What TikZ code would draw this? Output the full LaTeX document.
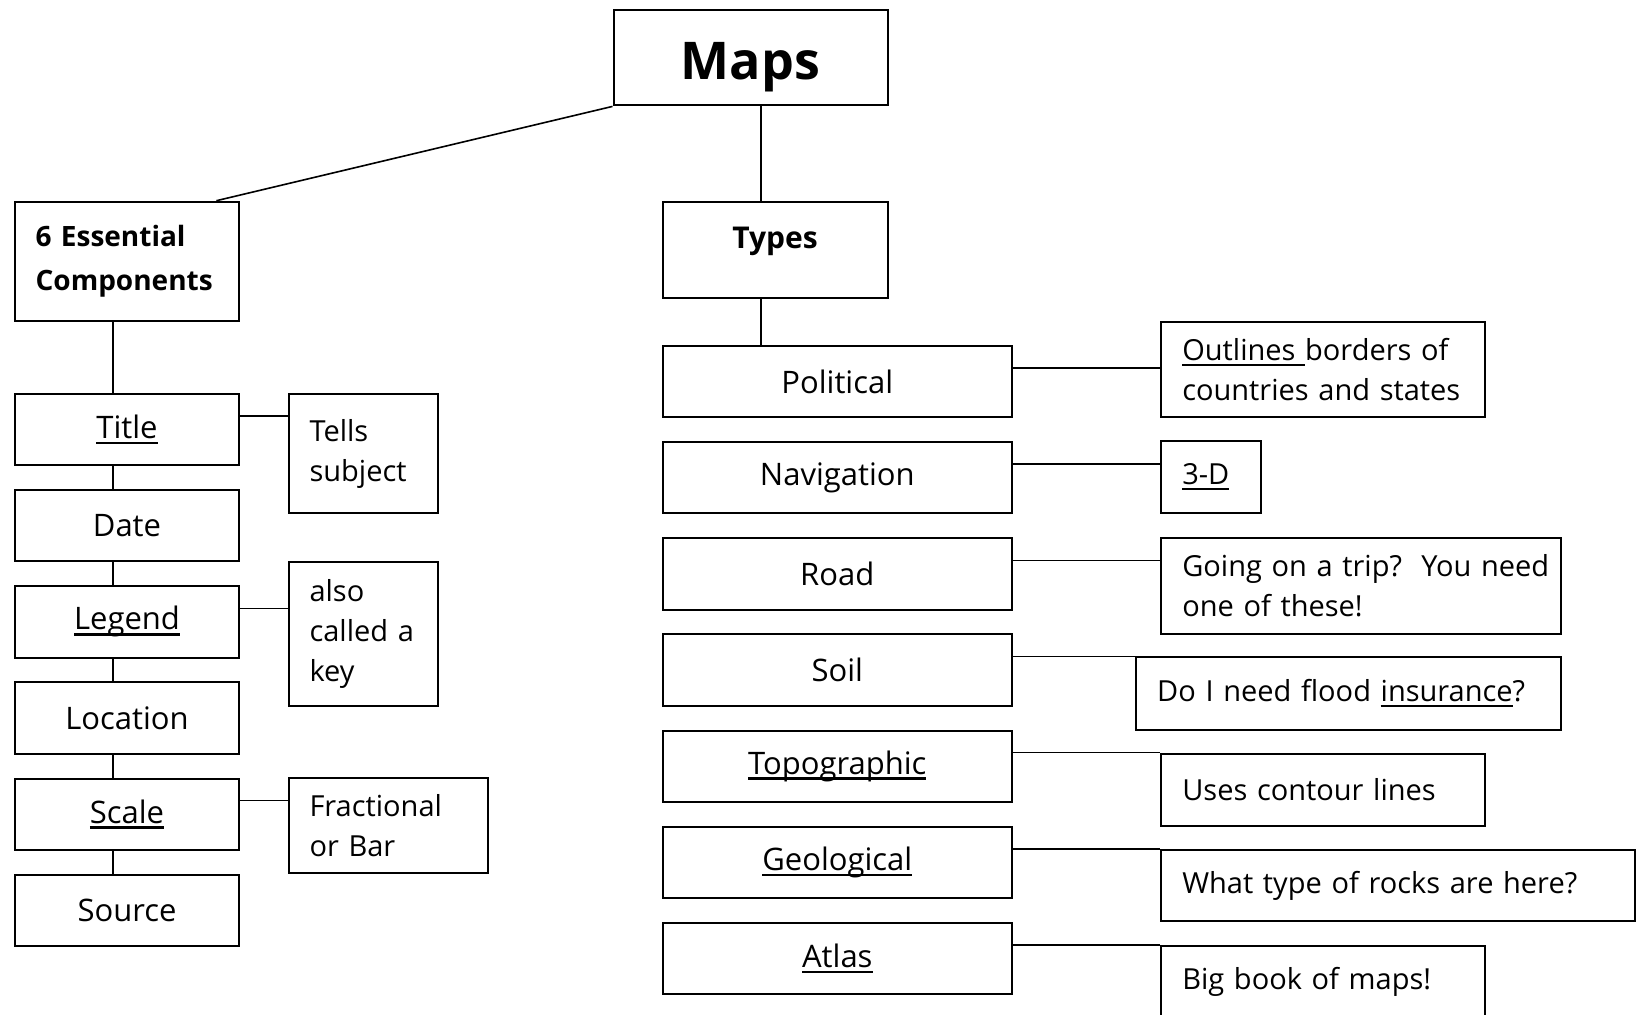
\documentclass[tikz,border=0pt]{standalone}
\usepackage{fontspec}
\setmainfont{Open Sans}
\usetikzlibrary{positioning,calc}
\newlength\ulwd
\newcommand\ulin[1]{\settowidth\ulwd{#1}\rlap{\rule[-2.8pt]{\ulwd}{1.2pt}}#1}
\hyphenpenalty=10000
\exhyphenpenalty=10000

\begin{document}
\begin{tikzpicture}[x=0.5pt, y=-0.5pt,
  box/.style={draw, line width=1pt, anchor=north west, inner sep=0pt, font=\fontsize{15.5}{21}\selectfont},
  head/.style={box, font=\fontsize{15}{22}\bfseries\selectfont},
  note/.style={box, align=left, inner xsep=10.5pt, font=\fontsize{14.5}{20}\selectfont},
  link/.style={line width=0.8pt}]

\useasboundingbox (0,0) rectangle (1639,1014);

% oben
\node[head, font=\fontsize{26}{30}\bfseries\selectfont, minimum width=137pt, text height=34.3pt, text depth=13.2pt] (maps) at (612.5,9.4) {Maps};
\node[head, font=\fontsize{14}{22}\bfseries\selectfont, align=left, text width=91.4pt, inner xsep=10.5pt, minimum height=59.6pt] (essential) at (13.6,200.7) {6 Essential\\Components};
\node[head, minimum width=112.4pt, text height=23.5pt, text depth=24.6pt] (types) at (661.7,200.7) {Types};

% linke Spalte
\foreach \name/\txt [count=\i from 0] in {title/\ulin{Title}, date/Date, legend/\ulin{Legend}, location/Location, scale/\ulin{Scale}, source/Source}
  \node[box, minimum width=112.4pt, minimum height=35.6pt] (\name) at (13.6,393+96.15*\i) {\txt};

% rechte Spalte
\foreach \name/\txt [count=\i from 0] in {political/Political, navigation/Navigation, road/Road, soil/Soil, topographic/\ulin{Topographic}, geological/\ulin{Geological}, atlas/\ulin{Atlas}}
  \node[box, minimum width=174.6pt, minimum height=35.6pt] (\name) at (661.7,345+96.15*\i) {\txt};

% Notizen links
\node[note, text width=53.8pt, minimum height=59.6pt] (tells) at (287.5,393) {Tells\\subject};
\node[note, text width=53.8pt, minimum height=71.6pt] (alsokey) at (287.5,561.3) {also\\called~a\\key};
\node[note, text width=78.8pt, minimum height=47.6pt] (fractional) at (287.5,776.7) {Fractional\\or~Bar};

% Notizen rechts
\node[note, text width=141pt, minimum height=47.6pt] (outlines) at (1160.3,320.9) {\mbox{\ulin{Outlines\ }borders of}\\countries~and~states};
\node[note, text width=28.7pt, minimum height=36pt] (threed) at (1160.3,440.1) {\ulin{3-D}};
\node[note, text width=178.7pt, minimum height=47.6pt] (trip) at (1160.3,537.3) {Going~on~a~trip?~~You~need\\one~of~these!};
\node[note, text width=191.2pt, minimum height=36.1pt] (flood) at (1135.2,656.4) {Do~I~need~flood~\ulin{insurance}?};
\node[note, text width=141pt, minimum height=36pt] (contour) at (1160.3,752.6) {Uses~contour~lines};
\node[note, text width=215.8pt, minimum height=35.6pt] (rocks) at (1160.3,848.8) {What~type~of~rocks~are~here?};
\node[note, text width=141pt, minimum height=36pt] (bigbook) at (1160.3,945) {Big~book~of~maps!};

% Verbindungen
\draw[link] (maps.south west) -- ([xshift=-12pt]essential.north east);
\coordinate (mt) at ([xshift=49.65pt]types.north west);
\draw[link] (mt) -- (mt |- maps.south);
\draw[link] ([xshift=49.65pt]types.south west) -- ([xshift=49.65pt]political.north west);
\foreach \a/\b in {essential/title, title/date, date/legend, legend/location, location/scale, scale/source}
  \draw[link] ([xshift=49.7pt]\a.south west) -- ([xshift=49.7pt]\b.north west);
\foreach \a/\b in {title/tells, legend/alsokey, scale/fractional, political/outlines, navigation/threed, road/trip, soil/flood, topographic/contour, geological/rocks, atlas/bigbook} {
  \coordinate (c) at ([yshift=-11.5pt]\a.north east);
  \draw[link] (c) -- (c -| \b.west);
}

\end{tikzpicture}
\end{document}
